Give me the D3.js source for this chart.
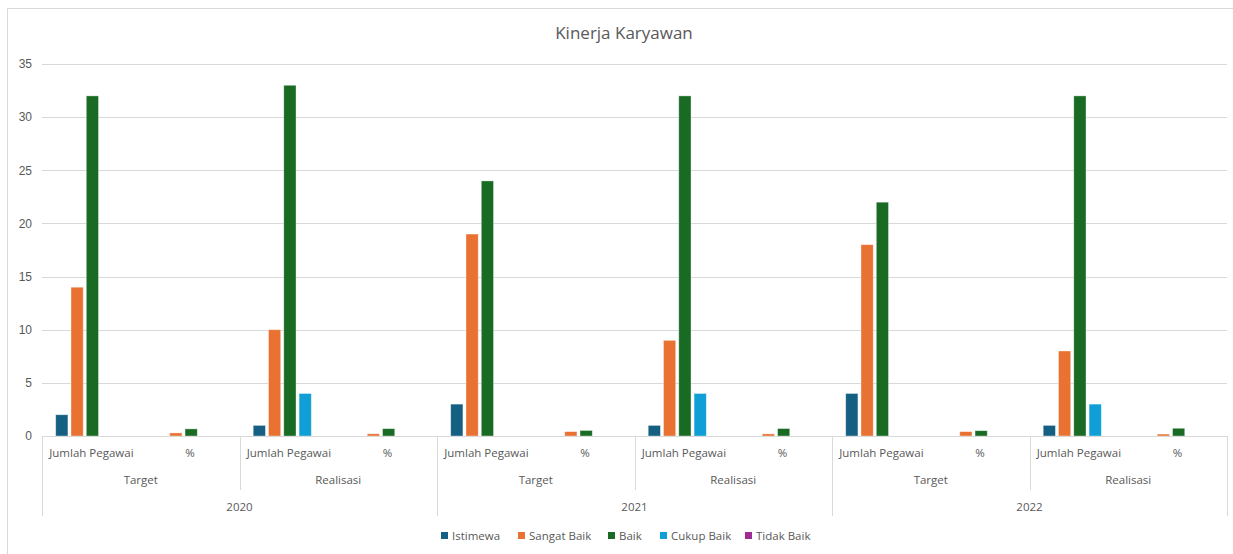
<!DOCTYPE html>
<html>
<head>
<meta charset="utf-8">
<script src="https://cdn.jsdelivr.net/npm/d3@7"></script>
<style>
  body { margin: 0; background: #fff; }
  svg { font-family: "Open Sans", sans-serif; }
  .grid line { stroke: #d9d9d9; }
  .yAxis text { fill: #595959; font-size: 12px; }
  .cat { fill: #595959; font-size: 11.5px; }
  .legend text { fill: #595959; font-size: 11.5px; }
</style>
</head>
<body>
<div id="chart"></div>
<script>

/* kinerja karyawan clustered bars */

// data

var years = ["2020", "2021", "2022"];
var stages = ["Target", "Realisasi"];
var measures = ["Jumlah Pegawai", "%"];

var series = ["Istimewa", "Sangat Baik", "Baik", "Cukup Baik", "Tidak Baik"];
var colors = ["#156082", "#e97132", "#196b24", "#0f9ed5", "#a02b93"];

// one value per category, in order year > stage > measure
var istimewa   = [2, 0, 1, 0, 3, 0, 1, 0, 4, 0, 1, 0];
var sangatBaik = [14, 0.29, 10, 0.21, 19, 0.41, 9, 0.2, 18, 0.41, 8, 0.18];
var baik       = [32, 0.67, 33, 0.69, 24, 0.52, 32, 0.7, 22, 0.5, 32, 0.73];
var cukupBaik  = [0, 0, 4, 0, 0, 0, 4, 0, 0, 0, 3, 0];
var tidakBaik  = [0, 0, 0, 0, 0, 0, 0, 0, 0, 0, 0, 0];

var yTicks = [0, 5, 10, 15, 20, 25, 30, 35];

// build categories

var categories = [];
years.forEach(function(yr) {
  stages.forEach(function(s) {
    measures.forEach(function(m) {
      categories.push({ year: yr, stage: s, measure: m, key: yr + "|" + s + "|" + m });
    });
  });
});

var values = [istimewa, sangatBaik, baik, cukupBaik, tidakBaik];

var data = [];
categories.forEach(function(c, i) {
  series.forEach(function(s, j) {
    data.push({ key: c.key, series: s, color: colors[j], value: values[j][i] });
  });
});

// sizes

var width = 1233,
    height = 554,
    plotLeft = 42,
    plotRight = 1227,
    plotTop = 64,
    plotBottom = 436;

var svg = d3.select("#chart")
  .append("svg")
    .attr("width", width)
    .attr("height", height);

// chart border

svg.append("path")
  .attr("d", "M7.5,554 V8.5 H1233")
  .attr("fill", "none")
  .attr("stroke", "#d9d9d9");

// title

svg.append("text")
  .attr("x", 624)
  .attr("y", 39)
  .attr("text-anchor", "middle")
  .style("font-size", "17px")
  .style("fill", "#595959")
  .text("Kinerja Karyawan");

// scales

var x0 = d3.scaleBand()
  .domain(categories.map(function(c) { return c.key; }))
  .range([plotLeft, plotRight]);

var x1 = d3.scaleBand()
  .domain(series)
  .range([13.7, 87.1])
  .paddingInner(0.2);

var y = d3.scaleLinear()
  .domain([0, 35])
  .range([plotBottom, plotTop]);

// gridlines

svg.append("g")
  .attr("class", "grid")
  .selectAll("line")
  .data(yTicks.slice(1))
  .enter()
  .append("line")
    .attr("x1", plotLeft)
    .attr("x2", plotRight)
    .attr("y1", function(d) { return Math.round(y(d)) + 0.5; })
    .attr("y2", function(d) { return Math.round(y(d)) + 0.5; });

// y axis labels

svg.append("g")
  .attr("class", "yAxis")
  .attr("transform", "translate(" + plotLeft + ",0)")
  .call(d3.axisLeft(y).tickValues(yTicks).tickSize(0).tickPadding(10))
  .call(function(g) { g.select(".domain").remove(); })
  .call(function(g) { g.selectAll("text").attr("font-family", null).attr("font-size", null); });

// bars

svg.append("g")
  .selectAll("rect")
  .data(data.filter(function(d) { return d.value > 0; }))
  .enter()
  .append("rect")
    .attr("x", function(d) { return x0(d.key) + x1(d.series); })
    .attr("y", function(d) { return y(d.value); })
    .attr("width", x1.bandwidth())
    .attr("height", function(d) { return plotBottom - y(d.value); })
    .attr("fill", function(d) { return d.color; })
    .attr("stroke", "#fff")
    .attr("stroke-opacity", 0.5)
    .attr("stroke-width", 0.75);

// category axis

var axis = svg.append("g").attr("stroke", "#d9d9d9");

axis.append("line")
  .attr("x1", plotLeft).attr("x2", plotRight)
  .attr("y1", plotBottom + 0.5).attr("y2", plotBottom + 0.5);

var stageW = x0.step() * measures.length,
    yearW = stageW * stages.length;

// separators between stages and years
d3.range(years.length * stages.length + 1).forEach(function(i) {
  var xx = Math.round(plotLeft + i * stageW) + 0.5;
  var yearEdge = i % stages.length == 0;
  axis.append("line")
    .attr("x1", xx).attr("x2", xx)
    .attr("y1", plotBottom)
    .attr("y2", yearEdge ? 516 : 490);
});

var labels = svg.append("g");

labels.selectAll(".measure")
  .data(categories)
  .enter()
  .append("text")
    .attr("class", "cat")
    .attr("x", function(d) { return x0(d.key) + x0.bandwidth() / 2; })
    .attr("y", 457)
    .attr("text-anchor", "middle")
    .text(function(d) { return d.measure; });

var stageCells = [];
years.forEach(function(yr, i) {
  stages.forEach(function(s, j) {
    stageCells.push({ label: s, x: plotLeft + (i * stages.length + j + 0.5) * stageW });
  });
});

labels.selectAll(".stage")
  .data(stageCells)
  .enter()
  .append("text")
    .attr("class", "cat")
    .attr("x", function(d) { return d.x; })
    .attr("y", 484)
    .attr("text-anchor", "middle")
    .text(function(d) { return d.label; });

labels.selectAll(".year")
  .data(years)
  .enter()
  .append("text")
    .attr("class", "cat")
    .attr("x", function(d, i) { return plotLeft + (i + 0.5) * yearW; })
    .attr("y", 511)
    .attr("text-anchor", "middle")
    .text(function(d) { return d; });

// legend

var legendPos = [441, 518, 608, 660, 745];

var legend = svg.append("g").attr("class", "legend");

var item = legend.selectAll("g")
  .data(series)
  .enter()
  .append("g")
    .attr("transform", function(d, i) { return "translate(" + legendPos[i] + ",532)"; });

item.append("rect")
  .attr("width", 7)
  .attr("height", 7)
  .attr("fill", function(d, i) { return colors[i]; });

item.append("text")
  .attr("x", 11)
  .attr("y", 8)
  .text(function(d) { return d; });

</script>
</body>
</html>
